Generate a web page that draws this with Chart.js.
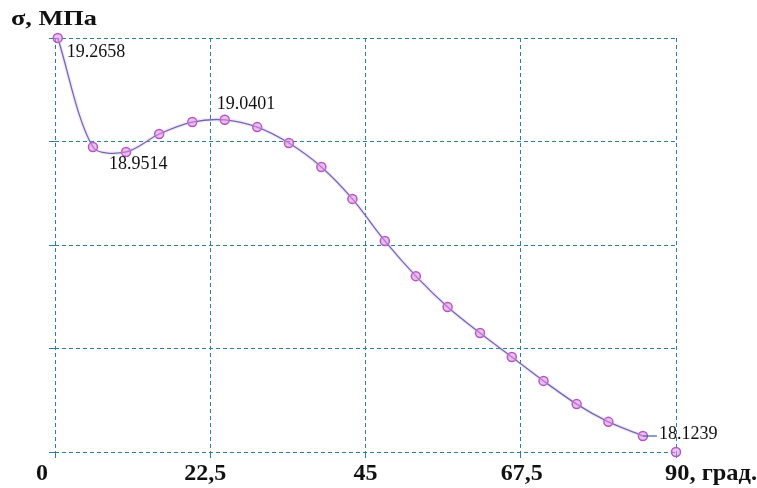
<!DOCTYPE html>
<html>
<head>
<meta charset="utf-8">
<script src="https://cdn.jsdelivr.net/npm/chart.js@4/dist/chart.umd.min.js"></script>
<style>
  html, body { margin: 0; padding: 0; background: #fff; }
  #wrap { width: 757px; height: 488px; position: relative; }
</style>
</head>
<body>
<div id="wrap"><canvas id="canvas"></canvas></div>
<script>
// angle, degrees
const angles = [0.4, 5.5, 10.3, 15.1, 19.9, 24.6, 29.3, 33.9, 38.6, 43.1,
                47.8, 52.3, 56.9, 61.6, 66.2, 70.8, 75.6, 80.2, 85.2, 90];
// stress, MPa
const sigma = [19.2658, 18.9652, 18.9514, 19.001, 19.034, 19.0401, 19.020, 18.976, 18.910, 18.822,
               18.706, 18.609, 18.524, 18.452, 18.386, 18.320, 18.256, 18.207, 18.168, 18.1239];
const xTicks = [0, 22.5, 45, 67.5, 90];
const xLabels = ['0', '22,5', '45', '67,5', '90, град.'];
const yTicks = [18.1239, 18.4094, 18.6948, 18.9803, 19.2658];
const marked = [0, 2, 5, 19];

const serif = "'Liberation Serif', 'Times New Roman', serif";
const points = angles.map((a, i) => ({ x: a, y: sigma[i] }));

// draw text squeezed/stretched to a given width
function fitText(c, text, x, y, w) {
    const m = c.measureText(text).width;
    c.save();
    c.translate(x, y);
    c.scale(w / m, 1);
    c.fillText(text, 0, 0);
    c.restore();
}

const textPlugin = {
    id: 'texts',
    afterDraw(chart) {
        const c = chart.ctx;
        const xs = chart.scales.x;
        c.save();
        c.fillStyle = '#111';
        c.textBaseline = 'middle';
        c.textAlign = 'left';

        // axis title
        c.font = 'bold 21px ' + serif;
        fitText(c, 'σ, МПа', 11, 20, 86);

        // x tick labels
        c.font = 'bold 24px ' + serif;
        const dx = [-13, -5, 0, 1, 0];
        xTicks.forEach((t, i) => {
            const px = xs.getPixelForValue(t);
            if (i === xTicks.length - 1) {
                c.textAlign = 'left';
                fitText(c, xLabels[i], px - 11, 474, 92);
            } else {
                c.textAlign = 'center';
                c.fillText(xLabels[i], px + dx[i], 474);
            }
        });

        // value labels
        c.font = '18px ' + serif;
        c.textAlign = 'left';
        const meta = chart.getDatasetMeta(1);
        const off = { 0: [9, 14], 2: [-17, 12], 5: [-8, -16], 19: [-17, -18] };
        marked.forEach(i => {
            const p = meta.data[i];
            c.fillText(sigma[i].toFixed(4), p.x + off[i][0], p.y + off[i][1]);
        });
        // leader for the last label
        const p18 = meta.data[18], p19 = meta.data[19];
        c.strokeStyle = '#3d62aa';
        c.lineWidth = 1.2;
        c.beginPath();
        c.moveTo(p18.x, p18.y);
        c.lineTo(p19.x - 19, p18.y);
        c.stroke();
        c.restore();
    }
};

const hideLast = ctx => ctx.p1DataIndex === sigma.length - 1 ? 'transparent' : undefined;

new Chart(document.getElementById('canvas'), {
    type: 'scatter',
    data: {
        datasets: [{
            data: points,
            showLine: true,
            clip: false,
            borderColor: 'rgba(240, 150, 220, 0.22)',
            borderWidth: 4,
            pointRadius: 0,
            tension: 0.3,
            segment: { borderColor: hideLast }
        }, {
            data: points,
            showLine: true,
            clip: false,
            borderColor: '#3d62aa',
            borderWidth: 1.3,
            tension: 0.3,
            pointRadius: 4.5,
            pointBorderWidth: 1.5,
            pointBorderColor: '#b555c5',
            pointBackgroundColor: 'rgba(220, 140, 225, 0.55)',
            segment: { borderColor: hideLast }
        }]
    },
    options: {
        responsive: true,
        maintainAspectRatio: false,
        animation: false,
        layout: { padding: { left: 49, top: 38, right: 81, bottom: 30 } },
        plugins: { legend: { display: false }, tooltip: { enabled: false } },
        scales: {
            x: {
                type: 'linear', min: 0, max: 90,
                afterBuildTicks: s => { s.ticks = xTicks.map(v => ({ value: v })); },
                ticks: { display: false },
                grid: { color: '#2a7f9e', lineWidth: 1, tickLength: 6 },
                border: { display: false, dash: [4, 3] }
            },
            y: {
                type: 'linear', min: yTicks[0], max: yTicks[yTicks.length - 1],
                afterBuildTicks: s => { s.ticks = yTicks.map(v => ({ value: v })); },
                ticks: { display: false },
                grid: { color: '#2a7f9e', lineWidth: 1, tickLength: 6 },
                border: { display: false, dash: [4, 3] }
            }
        }
    },
    plugins: [textPlugin]
});
</script>
</body>
</html>
